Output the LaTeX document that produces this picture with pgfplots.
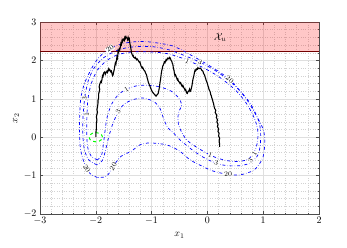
\documentclass[border=0pt]{standalone}
\usepackage{pgfplots}
\pgfplotsset{compat=1.18}
\begin{document}
\begin{tikzpicture}
\useasboundingbox (-40bp,-34bp) rectangle (307bp,214bp);
\begin{axis}[
  scale only axis, width=279bp, height=192bp,
  xmin=-3, xmax=2, ymin=-2, ymax=3,
  xtick={-3,-2,-1,0,1,2}, ytick={-2,-1,0,1,2,3},
  minor tick num=4,
  grid=both,
  major grid style={gray!25, line width=0.5pt},
  minor grid style={gray!35, dotted, line width=0.4pt},
  tick align=inside,
  major tick length=3pt, minor tick length=1.5pt,
  every tick/.style={gray!60!black, line width=0.4pt},
  axis line style={gray!60!black, line width=0.5pt},
  xlabel={$x_1$}, ylabel={$x_2$},
  xlabel style={yshift=-1pt},
  ylabel style={yshift=-2pt},
  clip=true,
]
% unsafe set
\addplot[draw=none, fill=red, fill opacity=0.22] coordinates {(-3,2.25) (2,2.25) (2,3) (-3,3)} -- cycle;
\addplot[red!45!black, line width=0.6pt] coordinates {(-3,2.25) (2,2.25)};

% level 20
\addplot[blue, dash dot, line width=0.7pt, smooth] coordinates {
(-1.97,-1.05) (-2.1,-0.95) (-2.2,-0.7) (-2.27,-0.35) (-2.29,0) (-2.29,0.5) (-2.27,1.0) (-2.2,1.41) (-2.06,1.83) (-1.93,2.1) (-1.75,2.3) (-1.51,2.44) (-1.25,2.49) (-1.03,2.48) (-0.68,2.4) (-0.5,2.3) (-0.31,2.15) (0.04,1.86) (0.4,1.5) (0.7,0.99) (0.9,0.5) (1.0,0.2) (1.03,-0.1) (1.0,-0.5) (0.92,-0.72) (0.82,-0.87) (0.59,-0.98) (0.37,-0.97) (0.1,-0.88) (-0.1,-0.75) (-0.31,-0.59) (-0.5,-0.36) (-0.73,-0.2) (-1.03,-0.15) (-1.21,-0.2) (-1.36,-0.36) (-1.55,-0.5) (-1.65,-0.68) (-1.75,-0.92) (-1.83,-1.03) (-1.97,-1.05)};
% level 3
\addplot[blue, dash dot, line width=0.7pt, smooth] coordinates {
(-1.98,-0.72) (-2.12,-0.6) (-2.2,-0.35) (-2.23,0) (-2.23,0.5) (-2.2,1.0) (-2.14,1.45) (-2.03,1.8) (-1.85,2.08) (-1.6,2.27) (-1.35,2.35) (-1.0,2.36) (-0.7,2.28) (-0.4,2.12) (-0.1,1.93) (0.2,1.68) (0.5,1.33) (0.75,0.92) (0.9,0.5) (0.95,0.2) (0.95,-0.15) (0.91,-0.45) (0.78,-0.66) (0.59,-0.74) (0.35,-0.74) (0.14,-0.67) (-0.1,-0.5) (-0.3,-0.3) (-0.49,-0.07) (-0.6,0.1) (-0.71,0.25) (-0.79,0.5) (-0.85,0.75) (-0.95,0.92) (-1.15,1.02) (-1.35,0.97) (-1.5,0.85) (-1.6,0.65) (-1.69,0.37) (-1.76,0.05) (-1.82,-0.3) (-1.88,-0.6) (-1.98,-0.72)};
% level 1
\addplot[blue, dash dot, line width=0.7pt, smooth] coordinates {
(-1.97,-0.59) (-2.08,-0.5) (-2.14,-0.3) (-2.16,0) (-2.16,0.5) (-2.14,1.0) (-2.08,1.4) (-1.97,1.75) (-1.8,2.0) (-1.6,2.15) (-1.35,2.22) (-1.0,2.22) (-0.7,2.17) (-0.4,2.03) (-0.1,1.83) (0.2,1.58) (0.5,1.23) (0.7,0.88) (0.84,0.5) (0.9,0.2) (0.9,-0.1) (0.85,-0.35) (0.75,-0.55) (0.59,-0.63) (0.35,-0.61) (0.1,-0.5) (-0.15,-0.3) (-0.35,-0.1) (-0.45,0.1) (-0.52,0.35) (-0.52,0.63) (-0.46,0.84) (-0.52,1.03) (-0.65,1.2) (-0.85,1.31) (-1.05,1.35) (-1.26,1.34) (-1.45,1.25) (-1.6,1.1) (-1.72,0.85) (-1.8,0.5) (-1.84,0.1) (-1.87,-0.25) (-1.9,-0.48) (-1.97,-0.59)};

% initial set
\addplot[green, dashed, line width=1pt, smooth] coordinates {
(-1.88,0) (-1.896,0.06) (-1.94,0.104) (-2,0.12) (-2.06,0.104) (-2.104,0.06) (-2.12,0) (-2.104,-0.06) (-2.06,-0.104) (-2,-0.12) (-1.94,-0.104) (-1.896,-0.06) (-1.88,0)};

% trajectory
\addplot[black, line width=1.1pt] coordinates {
(-2.00,0.00) (-2.00,0.10) (-1.99,0.22) (-1.99,0.35) (-1.98,0.45) (-1.99,0.53) (-1.97,0.65) (-1.98,0.72) (-1.97,0.78) (-1.96,0.90) (-1.96,0.96) (-1.95,1.02) (-1.95,1.12) (-1.94,1.18) (-1.93,1.25) (-1.94,1.31) (-1.93,1.38) (-1.91,1.45) (-1.90,1.43) (-1.89,1.50) (-1.88,1.60) (-1.87,1.58) (-1.86,1.67) (-1.84,1.70) (-1.83,1.64) (-1.82,1.67) (-1.80,1.72) (-1.79,1.69) (-1.77,1.78) (-1.76,1.74) (-1.75,1.76) (-1.73,1.70) (-1.72,1.72) (-1.71,1.66) (-1.70,1.60) (-1.69,1.62) (-1.68,1.70) (-1.67,1.76) (-1.66,1.85) (-1.65,1.93) (-1.64,1.90) (-1.63,2.00) (-1.62,2.10) (-1.61,2.06) (-1.60,2.25) (-1.59,2.22) (-1.58,2.30) (-1.57,2.28) (-1.56,2.35) (-1.55,2.45) (-1.54,2.42) (-1.53,2.52) (-1.52,2.49) (-1.51,2.56) (-1.50,2.55) (-1.49,2.52) (-1.48,2.60) (-1.47,2.57) (-1.46,2.62) (-1.45,2.59) (-1.44,2.58) (-1.43,2.54) (-1.42,2.60) (-1.41,2.55) (-1.40,2.57) (-1.39,2.45) (-1.38,2.38) (-1.37,2.30) (-1.36,2.20) (-1.35,2.16) (-1.34,2.12) (-1.33,2.13) (-1.32,2.08) (-1.30,2.06) (-1.29,2.08) (-1.27,2.02) (-1.26,2.04) (-1.24,2.00) (-1.22,1.95) (-1.21,1.96) (-1.19,1.86) (-1.17,1.80) (-1.16,1.82) (-1.14,1.75) (-1.12,1.72) (-1.11,1.68) (-1.09,1.62) (-1.08,1.55) (-1.07,1.50) (-1.06,1.44) (-1.05,1.40) (-1.03,1.33) (-1.02,1.29) (-1.00,1.22) (-0.99,1.19) (-0.97,1.15) (-0.95,1.12) (-0.94,1.10) (-0.92,1.07) (-0.91,1.09) (-0.89,1.12) (-0.88,1.15) (-0.87,1.22) (-0.86,1.30) (-0.85,1.42) (-0.84,1.50) (-0.83,1.62) (-0.82,1.72) (-0.81,1.78) (-0.80,1.85) (-0.79,1.88) (-0.77,1.96) (-0.76,1.94) (-0.74,2.02) (-0.73,2.00) (-0.71,2.06) (-0.69,2.04) (-0.68,2.08) (-0.67,2.07) (-0.65,2.00) (-0.64,1.98) (-0.63,1.93) (-0.62,1.90) (-0.61,1.80) (-0.60,1.75) (-0.59,1.66) (-0.58,1.60) (-0.57,1.62) (-0.56,1.58) (-0.55,1.54) (-0.54,1.50) (-0.53,1.52) (-0.52,1.46) (-0.50,1.43) (-0.49,1.40) (-0.48,1.42) (-0.47,1.38) (-0.46,1.34) (-0.45,1.32) (-0.44,1.35) (-0.42,1.28) (-0.41,1.26) (-0.40,1.22) (-0.39,1.24) (-0.37,1.15) (-0.36,1.14) (-0.35,1.18) (-0.33,1.21) (-0.32,1.25) (-0.31,1.19) (-0.30,1.20) (-0.29,1.26) (-0.28,1.32) (-0.27,1.40) (-0.26,1.50) (-0.25,1.56) (-0.24,1.62) (-0.23,1.70) (-0.22,1.75) (-0.21,1.73) (-0.19,1.78) (-0.18,1.77) (-0.17,1.81) (-0.16,1.79) (-0.14,1.79) (-0.13,1.80) (-0.11,1.77) (-0.10,1.74) (-0.08,1.72) (-0.07,1.66) (-0.05,1.62) (-0.04,1.56) (-0.03,1.52) (-0.02,1.47) (0.00,1.40) (0.01,1.34) (0.02,1.30) (0.03,1.24) (0.05,1.18) (0.06,1.11) (0.07,1.08) (0.08,1.02) (0.09,0.98) (0.10,0.92) (0.11,0.88) (0.12,0.80) (0.13,0.75) (0.15,0.70) (0.14,0.64) (0.15,0.62) (0.17,0.56) (0.16,0.52) (0.18,0.45) (0.17,0.40) (0.19,0.33) (0.18,0.28) (0.20,0.22) (0.19,0.15) (0.21,0.10) (0.20,0.03) (0.22,-0.03) (0.21,-0.10) (0.22,-0.18) (0.22,-0.25)};

% contour labels
\begin{scope}[every node/.style={font=\scriptsize, fill=white, inner sep=0.4pt}]
\node[rotate=35] at (axis cs:-1.75,2.3) {20};
\node[rotate=-25] at (axis cs:-0.36,1.98) {1};
\node[rotate=-25] at (axis cs:-0.13,1.95) {3};
\node[rotate=-40] at (axis cs:0.4,1.5) {20};
\node[rotate=30] at (axis cs:-1.45,1.25) {1};
\node[rotate=60] at (axis cs:-1.6,0.66) {3};
\node[rotate=90] at (axis cs:-2.2,1.0) {3};
\node[rotate=90] at (axis cs:-2.16,0.58) {1};
\node[rotate=-60] at (axis cs:-2.16,-0.82) {20};
\node[rotate=60] at (axis cs:-1.69,-0.77) {20};
\node[rotate=-20] at (axis cs:0.05,-0.47) {1};
\node[rotate=-15] at (axis cs:0.16,-0.68) {3};
\node at (axis cs:0.37,-0.97) {20};
\node[rotate=60] at (axis cs:0.77,-0.62) {3};
\node[rotate=60] at (axis cs:0.84,-0.42) {1};
\end{scope}
\node at (axis cs:0.23,2.6) {$\mathcal{X}_u$};
\end{axis}
\end{tikzpicture}
\end{document}
